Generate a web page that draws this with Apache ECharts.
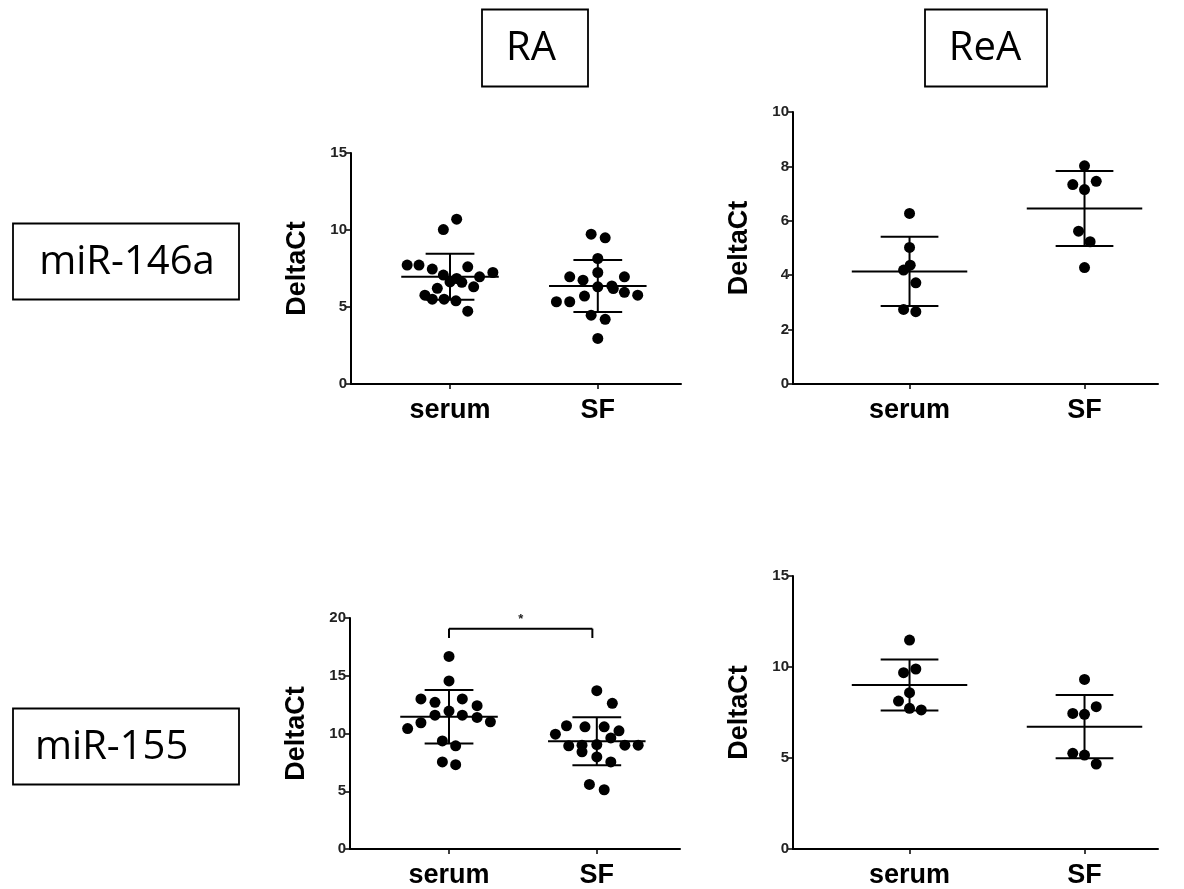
<!DOCTYPE html>
<html>
<head>
<meta charset="utf-8">
<script src="https://cdn.jsdelivr.net/npm/echarts@6/dist/echarts.min.js"></script>
<style>
html,body{margin:0;padding:0;background:#fff;}
#chart{width:1184px;height:889px;}
</style>
</head>
<body>
<div id="chart"></div>
<script>
// ---------- data ----------
const categories = ['serum', 'SF'];
const columnTitles = ['RA', 'ReA'];
const rowTitles = ['miR-146a', 'miR-155'];
const yAxisTitle = 'DeltaCt';

// RA, miR-146a
const ra146SerumVals = [10.70, 10.03, 7.72, 7.72, 7.46, 7.61, 7.24, 6.96, 7.07, 6.85, 6.63, 6.60, 6.21, 6.31, 5.77, 5.51, 5.51, 5.40, 4.73];
const ra146SerumJit  = [0.045, -0.045, -0.29, -0.21, -0.12, 0.12, 0.29, 0.20, -0.045, 0.045, 0, 0.08, -0.086, 0.16, -0.17, -0.12, -0.04, 0.04, 0.12];
const ra146SFVals    = [9.73, 9.49, 8.15, 7.24, 6.96, 6.74, 6.96, 6.37, 6.20, 6.31, 5.95, 5.77, 5.34, 5.34, 5.71, 4.47, 4.20, 2.96];
const ra146SFJit     = [-0.045, 0.05, 0, 0, -0.19, -0.1, 0.18, 0.095, 0.105, 0, 0.18, 0.27, -0.28, -0.19, -0.09, -0.045, 0.05, 0];
const ra146Mean = [6.96, 6.36];
const ra146SD   = [1.49, 1.69];

// ReA, miR-146a
const rea146SerumVals = [6.27, 5.02, 4.37, 4.19, 3.72, 2.74, 2.66];
const rea146SerumJit  = [0, 0, 0.004, -0.034, 0.036, -0.034, 0.036];
const rea146SFVals    = [8.02, 7.33, 7.45, 7.15, 5.62, 5.23, 4.28];
const rea146SFJit     = [0, -0.067, 0.067, 0, -0.034, 0.032, 0];
const rea146Mean = [4.14, 6.45];
const rea146SD   = [1.27, 1.38];

// RA, miR-155
const ra155SerumVals = [16.67, 14.55, 12.99, 12.70, 12.99, 12.41, 11.94, 11.59, 11.59, 11.39, 11.01, 10.93, 10.43, 9.36, 8.93, 7.54, 7.30];
const ra155SerumJit  = [0, 0, -0.19, -0.095, 0.09, 0.19, 0, -0.095, 0.09, 0.19, 0.28, -0.19, -0.28, -0.045, 0.045, -0.045, 0.045];
const ra155SFVals    = [13.71, 12.61, 9.94, 10.67, 10.58, 10.58, 10.23, 9.62, 8.93, 8.99, 9.04, 8.99, 8.99, 8.41, 7.97, 7.54, 5.59, 5.13];
const ra155SFJit     = [0, 0.105, -0.28, -0.205, -0.08, 0.05, 0.15, 0.095, -0.19, -0.1, 0, 0.19, 0.28, -0.1, 0, 0.095, -0.05, 0.05];
const ra155Mean = [11.45, 9.33];
const ra155SD   = [2.32, 2.07];
const ra155Bracket = {y: 19.08, drop: 18.27, label: '*'};

// ReA, miR-155
const rea155SerumVals = [11.48, 9.69, 9.89, 8.59, 8.13, 7.73, 7.64];
const rea155SerumJit  = [0, -0.034, 0.036, 0, -0.063, 0, 0.067];
const rea155SFVals    = [9.32, 7.82, 7.45, 7.40, 5.26, 5.16, 4.67];
const rea155SFJit     = [0, 0.067, -0.067, 0, -0.067, 0, 0.067];
const rea155Mean = [9.01, 6.72];
const rea155SD   = [1.40, 1.74];

// y-axis ticks
const yMax = [15, 10, 20, 15];
const yStep = [5, 2, 5, 5];

// ---------- build ----------
const panels = [
  {serum: [ra146SerumVals, ra146SerumJit], sf: [ra146SFVals, ra146SFJit], mean: ra146Mean, sd: ra146SD},
  {serum: [rea146SerumVals, rea146SerumJit], sf: [rea146SFVals, rea146SFJit], mean: rea146Mean, sd: rea146SD},
  {serum: [ra155SerumVals, ra155SerumJit], sf: [ra155SFVals, ra155SFJit], mean: ra155Mean, sd: ra155SD, bracket: ra155Bracket},
  {serum: [rea155SerumVals, rea155SerumJit], sf: [rea155SFVals, rea155SFJit], mean: rea155Mean, sd: rea155SD}
];

const gridPos = [
  {left: 351, top: 153, width: 330, height: 231},
  {left: 793, top: 112, width: 365, height: 272},
  {left: 350, top: 618, width: 330, height: 231},
  {left: 793, top: 576, width: 365, height: 273}
];
const xRange = [[0.33, 2.563], [0.334, 2.42], [0.33, 2.563], [0.334, 2.42]];

const FONT = '"Liberation Sans", Arial, sans-serif';
const grids = [], xAxes = [], yAxes = [], series = [];

panels.forEach((p, i) => {
  grids.push(Object.assign({containLabel: false}, gridPos[i]));
  xAxes.push({
    type: 'value', gridIndex: i, min: xRange[i][0], max: xRange[i][1],
    splitLine: {show: false},
    axisLine: {show: true, onZero: false, lineStyle: {color: '#000', width: 2}},
    axisTick: {show: true, customValues: [1, 2], length: 5, lineStyle: {color: '#000', width: 1.5}},
    axisLabel: {
      customValues: [1, 2], margin: 13,
      formatter: v => categories[Math.round(v) - 1] || '',
      fontFamily: FONT, fontWeight: 'bold', fontSize: 27, color: '#000'
    }
  });
  yAxes.push({
    type: 'value', gridIndex: i, min: 0, max: yMax[i], interval: yStep[i],
    splitLine: {show: false},
    axisLine: {show: true, lineStyle: {color: '#000', width: 2}},
    axisTick: {show: true, length: 5, lineStyle: {color: '#000', width: 1.5}},
    axisLabel: {fontFamily: FONT, fontWeight: 'bold', fontSize: 15, color: '#222', margin: 4},
    name: yAxisTitle, nameLocation: 'middle', nameGap: 40,
    nameTextStyle: {fontFamily: FONT, fontWeight: 'bold', fontSize: 27, color: '#000'}
  });
  [p.serum, p.sf].forEach((grp, c) => {
    series.push({
      type: 'scatter', xAxisIndex: i, yAxisIndex: i, symbol: 'circle', symbolSize: 11,
      itemStyle: {color: '#000', opacity: 1}, silent: true, z: 3,
      data: grp[0].map((v, k) => [c + 1 + grp[1][k], v])
    });
  });
  series.push({
    type: 'custom', xAxisIndex: i, yAxisIndex: i, silent: true, z: 4,
    data: p.mean.map((m, c) => [c + 1, m, p.sd[c]]),
    renderItem: (params, api) => {
      const x = api.value(0), m = api.value(1), s = api.value(2);
      const pt = (a, b) => api.coord([a, b]);
      const st = {stroke: '#000', lineWidth: 2};
      const seg = (a, b) => ({type: 'line', shape: {x1: a[0], y1: a[1], x2: b[0], y2: b[1]}, style: st});
      return {type: 'group', children: [
        seg(pt(x - 0.33, m), pt(x + 0.33, m)),
        seg(pt(x, m - s), pt(x, m + s)),
        seg(pt(x - 0.165, m + s), pt(x + 0.165, m + s)),
        seg(pt(x - 0.165, m - s), pt(x + 0.165, m - s))
      ]};
    }
  });
  if (p.bracket) {
    const b = p.bracket;
    series.push({
      type: 'custom', xAxisIndex: i, yAxisIndex: i, silent: true, z: 4,
      data: [[1, 1.97, b.y, b.drop]],
      renderItem: (params, api) => {
        const a = api.coord([api.value(0), api.value(2)]);
        const c = api.coord([api.value(1), api.value(2)]);
        const ad = api.coord([api.value(0), api.value(3)]);
        const cd = api.coord([api.value(1), api.value(3)]);
        const st = {stroke: '#000', lineWidth: 2};
        return {type: 'group', children: [
          {type: 'line', shape: {x1: a[0], y1: a[1], x2: c[0], y2: c[1]}, style: st},
          {type: 'line', shape: {x1: a[0], y1: a[1], x2: ad[0], y2: ad[1]}, style: st},
          {type: 'line', shape: {x1: c[0], y1: c[1], x2: cd[0], y2: cd[1]}, style: st},
          {type: 'text', x: (a[0] + c[0]) / 2, y: a[1] - 3,
            style: {text: b.label, fill: '#222', font: 'bold 13px ' + FONT, align: 'center', verticalAlign: 'bottom'}}
        ]};
      }
    });
  }
});

const BOXFONT = '"Open Sans", "Noto Sans", sans-serif';
const boxes = [
  {x: 482, y: 9.5, w: 106, h: 77, text: columnTitles[0], tx: 531, align: 'center'},
  {x: 925, y: 9.5, w: 122, h: 77, text: columnTitles[1], tx: 985, align: 'center'},
  {x: 13, y: 223.5, w: 226, h: 76, text: rowTitles[0], tx: 127, align: 'center'},
  {x: 13, y: 708.5, w: 226, h: 76, text: rowTitles[1], tx: 35, align: 'left'}
];
const graphic = [];
boxes.forEach(b => {
  graphic.push({type: 'rect', shape: {x: b.x, y: b.y, width: b.w, height: b.h},
    style: {fill: '#fff', stroke: '#000', lineWidth: 1.8}, z: 10});
  graphic.push({type: 'text', x: b.tx, y: b.y + b.h / 2 + 1, z: 11,
    style: {text: b.text, fill: '#000', font: '40px ' + BOXFONT, align: b.align, verticalAlign: 'middle'}});
});

const chart = echarts.init(document.getElementById('chart'), null, {renderer: 'canvas'});
chart.setOption({
  animation: false,
  backgroundColor: '#fff',
  grid: grids, xAxis: xAxes, yAxis: yAxes, series: series, graphic: graphic
});
</script>
</body>
</html>
